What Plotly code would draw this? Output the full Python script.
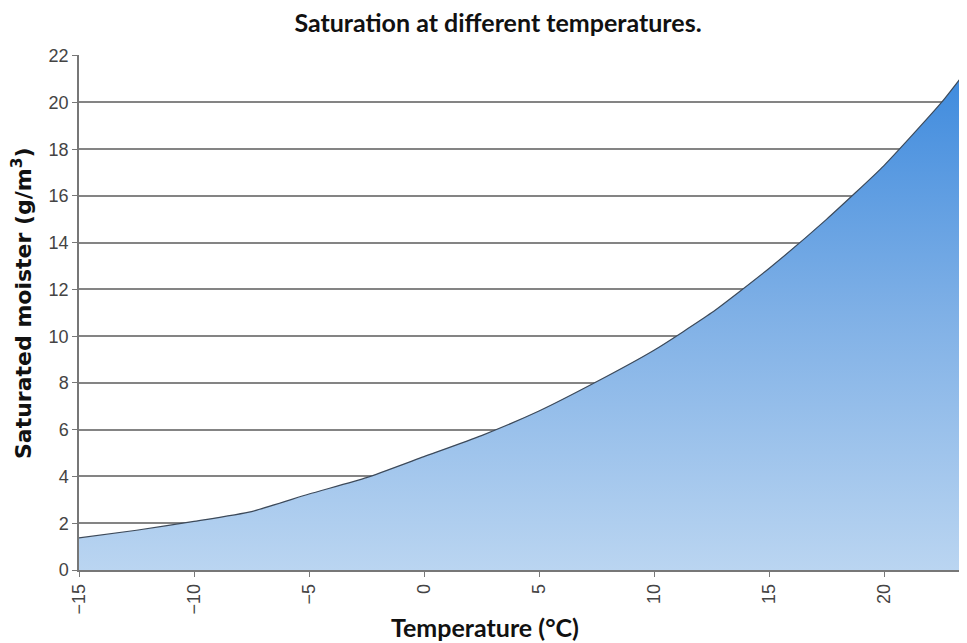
import plotly.graph_objects as go

# temperature (°C) and saturated moisture (g/m3)
temperature = [-15, -12.5, -10, -7.5, -5, -2.5, 0, 2.5, 5, 7.5, 10, 12.5, 15, 17.5, 20, 22.5, 24]
saturation = [1.37, 1.7, 2.08, 2.5, 3.25, 3.95, 4.85, 5.75, 6.8, 8.05, 9.4, 11.0, 12.9, 15.0, 17.3, 20.0, 21.9]

x_ticks = [-15, -10, -5, 0, 5, 10, 15, 20]
y_ticks = [0, 2, 4, 6, 8, 10, 12, 14, 16, 18, 20, 22]

TITLE_FONT = 'Lato'
TICK_FONT = 'Liberation Sans'
GRID = 'rgba(50,50,50,0.6)'

# page body has an 8px margin, so the figure is sized/placed to compensate
W, H = 951, 635
L, T, B = 71, 47, 73
pw, ph = W - L, H - T - B

fig = go.Figure()
fig.add_trace(go.Scatter(
    x=temperature, y=saturation, mode='lines',
    line=dict(color='#3d4a5a', width=1.2, shape='spline', smoothing=0.5),
    fill='tozeroy',
    fillgradient=dict(
        type='vertical', start=0, stop=22,
        colorscale=[[0, '#bad5f1'], [0.5, '#7fb0e6'], [1, '#3a88dd']],
    ),
    hoverinfo='x+y', showlegend=False,
))

fig.update_layout(
    width=W, height=H,
    margin=dict(l=L, r=0, t=T, b=B, autoexpand=False),
    paper_bgcolor='white', plot_bgcolor='white',
    title=dict(
        text='Saturation at different temperatures.',
        x=(498 - 8) / W, xanchor='center', y=1 - (23 - 8) / H, yanchor='middle',
        font=dict(family=TITLE_FONT, size=25, color='#111', weight='bold'),
    ),
    annotations=[
        dict(
            text='Temperature (°C)', xref='paper', yref='paper',
            x=(485 - 79) / pw, y=-(627 - 570) / ph,
            xanchor='center', yanchor='middle', showarrow=False,
            font=dict(family=TITLE_FONT, size=25, color='#111', weight='bold'),
        ),
        dict(
            text='Saturated moister (g/m<sup>3</sup>)', xref='paper', yref='paper',
            x=(22 - 79) / pw, y=(570 - 303) / ph, textangle=-90,
            xanchor='center', yanchor='middle', showarrow=False,
            font=dict(family='DejaVu Sans', size=22, color='#111', weight='bold'),
        ),
    ],
)

fig.update_xaxes(
    range=[-15, -15 + pw / 23], tickvals=x_ticks, tickangle=-90,
    showgrid=False, zeroline=False,
    showline=True, linecolor='#777', linewidth=1.5,
    ticks='outside', ticklen=5, tickcolor='#777',
    tickfont=dict(family=TICK_FONT, size=18, color='#444'),
)
fig.update_yaxes(
    range=[0, 22.03], tickvals=y_ticks,
    showgrid=True, gridcolor=GRID, gridwidth=2, zeroline=False,
    showline=True, linecolor='#777', linewidth=1.5,
    ticks='outside', ticklen=5, tickcolor='#777',
    tickfont=dict(family=TICK_FONT, size=18, color='#444'),
    layer='above traces',
)

fig.write_html('out.html')
